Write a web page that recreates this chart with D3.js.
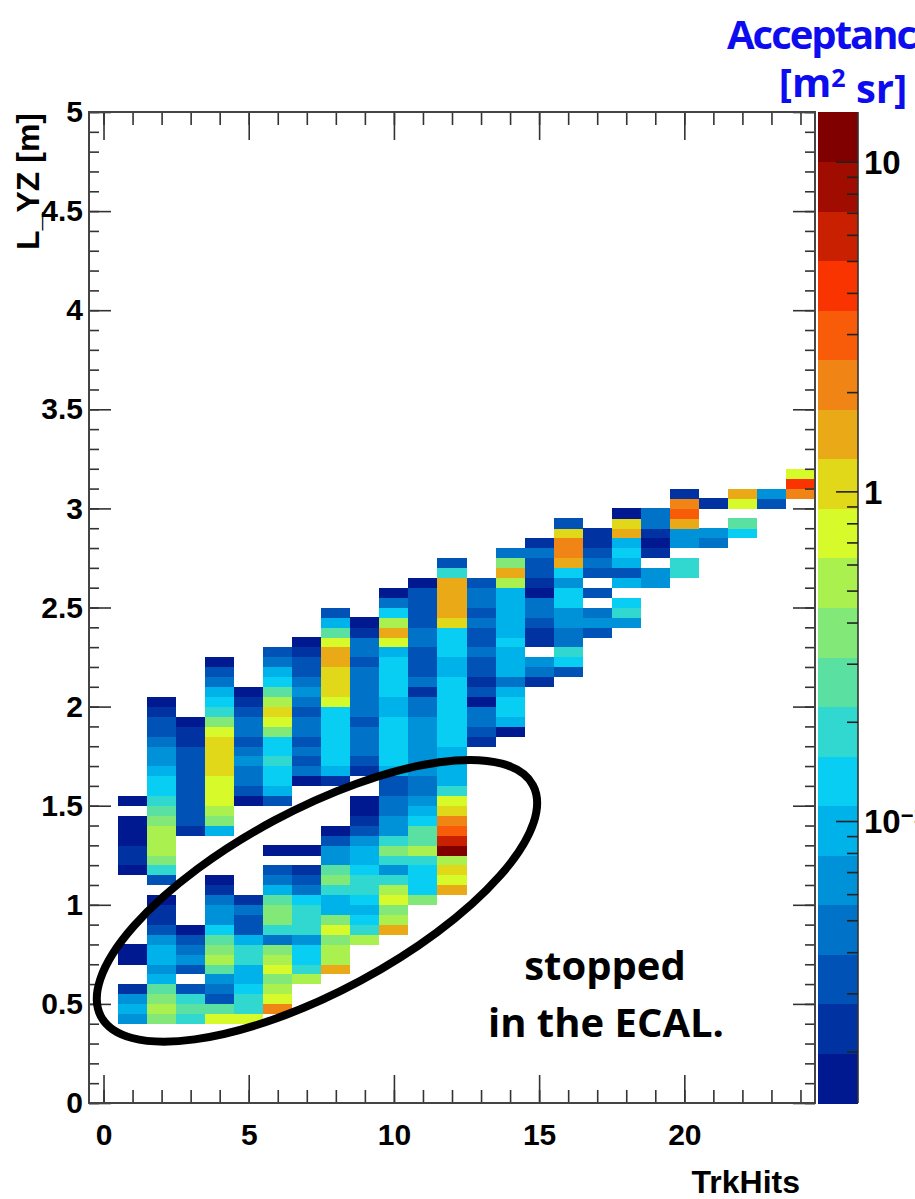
<!DOCTYPE html>
<html>
<head>
<meta charset="utf-8">
<script src="https://cdn.jsdelivr.net/npm/d3@7"></script>
<style>
  html, body { margin: 0; padding: 0; background: #fff; }
  svg { display: block; }
</style>
</head>
<body>
<svg id="chart" width="915" height="1199"></svg>
<script>
// TrkHits columns (bin width 1) and L_YZ bins of 0.05 m
const trkHits = d3.range(1, 25);
const binWidth = 0.05;

// lower edge of the lowest filled L_YZ bin, per TrkHits column
const columnStart = [0.40, 0.40, 0.40, 0.40, 0.40, 0.45, 0.60, 0.65, 0.80, 0.85, 1.00, 1.05,
  1.80, 1.85, 2.10, 2.15, 2.35, 2.40, 2.60, 2.65, 2.80, 2.85, 3.00, 3.05];

// acceptance [m^2 sr] per bin, going up from columnStart (null = empty bin)
const hits01 = [0.062, 0.088, 0.062, 0.022, null, null, 0.016, 0.016, null, null, null, null, null, null, null,
  0.016, 0.022, 0.022, 0.016, 0.016, 0.016, null, 0.016];
const hits02 = [0.36, 0.5, 0.36, 0.25, 0.088, 0.062, 0.088, 0.088, 0.062, 0.031, 0.022, 0.022, 0.016, null,
  0.031, 0.18, 0.36, 0.5, 0.5, 0.5, 0.36, 0.25, 0.18, 0.125, 0.125, 0.088, 0.062, 0.062, 0.044, 0.031, 0.031, 0.022, 0.016];
const hits03 = [0.18, 0.25, 0.18, 0.031, null, 0.031, 0.062, 0.044, 0.031, 0.016,
  null, null, null, null, null, null, null, null, null,
  0.022, 0.031, 0.031, 0.031, 0.031, 0.031, 0.031, 0.031, 0.031, 0.022, 0.022, 0.016];
const hits04 = [0.72, 0.25, 0.031, 0.044, 0.062, 0.25, 0.5, 0.36, 0.25, 0.125, 0.062, 0.062, 0.044, 0.022, 0.016,
  null, null, null, null,
  0.088, 0.36, 0.5, 0.72, 0.72, 0.72, 1.0, 1.0, 1.0, 1.0, 0.72, 0.36, 0.18, 0.125, 0.088, 0.044, 0.031, 0.016];
const hits05 = [0.72, 0.18, 0.18, 0.125, 0.088, 0.088, 0.18, 0.18, 0.088, 0.031, 0.031, 0.044, 0.022,
  null, null, null, null, null, null, null, null, null,
  0.016, 0.031, 0.044, 0.044, 0.062, 0.044, 0.031, 0.044, 0.044, 0.031, 0.022, 0.016];
const hits06 = [2.0, 0.72, 0.5, 0.36, 0.72, 0.5, 0.36, 0.044, 0.18, 0.36, 0.36, 0.25, 0.088, 0.044, 0.031, null, 0.016,
  null, null, null, null,
  0.031, 0.088, 0.125, 0.125, 0.18, 0.125, 0.125, 0.36, 0.72, 1.0, 0.5, 0.25, 0.125, 0.088, 0.044, 0.031];
const hits07 = [0.5, 0.18, 0.125, 0.125, 0.062, 0.18, 0.18, 0.18, 0.125, 0.044, 0.031, 0.022, null, 0.016,
  null, null, null, null, null, null,
  0.016, 0.044, 0.031, 0.044, 0.031, 0.044, 0.044, 0.031, 0.044, 0.062, 0.044, 0.031, 0.031, 0.022, 0.016];
const hits08 = [1.45, 0.5, 0.5, 0.36, 0.72, 0.36, 0.088, 0.088, 0.18, 0.36, 0.25, 0.062, 0.062, 0.031, 0.016,
  null, null, null, null,
  0.022, 0.088, 0.125, 0.125, 0.125, 0.125, 0.125, 0.125, 0.72, 1.0, 1.0, 1.0, 1.45, 1.45, 0.72, 0.25, 0.088, 0.031];
const hits09 = [0.5, 0.18, 0.125, 0.088, 0.125, 0.18, 0.18, 0.125, 0.088, 0.088, 0.062, 0.031, 0.022, 0.016, 0.016,
  null, null,
  0.022, 0.031, 0.044, 0.044, 0.044, 0.031, 0.044, 0.044, 0.044, 0.044, 0.044, 0.031, 0.044, 0.044, 0.022, 0.016];
const hits10 = [1.45, 0.5, 0.36, 0.72, 0.5, 0.18, 0.062, 0.18, 0.36, 0.18, 0.062, 0.062, 0.044, 0.044, 0.031, 0.031,
  0.088, 0.125, 0.125, 0.125, 0.125, 0.125, 0.088, 0.088, 0.125, 0.125, 0.125, 0.125, 0.088, 0.72, 1.45, 0.5, 0.125, 0.044, 0.016];
const hits11 = [0.36, 0.125, 0.125, 0.125, 0.18, 0.5, 0.25, 0.25, 0.125, 0.088, 0.062, 0.044, 0.044,
  0.062, 0.062, 0.062, 0.062, 0.062, 0.062, 0.044, 0.044, 0.022, 0.044, 0.031, 0.031, 0.031, 0.044, 0.044,
  0.031, 0.031, 0.031, 0.031, 0.016];
const hits12 = [1.45, 0.72, 1.0, 0.5, 11.5, 5.8, 2.9, 2.0, 1.0, 0.72, 0.18, 0.088, 0.088, 0.088, 0.088,
  0.125, 0.125, 0.125, 0.125, 0.125, 0.125, 0.125, 0.088, 0.088, 0.125, 0.125, 0.125, 1.0, 1.45, 1.45, 1.45, 1.45, 0.18, 0.031];
const hits13 = [0.022, 0.031, 0.044, 0.044, 0.016, 0.031, 0.022, 0.031, 0.031, 0.044, 0.031, 0.031, 0.044, 0.031, 0.044, 0.044, 0.031];
const hits14 = [0.016, 0.088, 0.125, 0.125, 0.088, 0.044, 0.088, 0.088, 0.088, 0.125, 0.088, 0.088, 0.088, 0.088, 0.088, 0.5, 1.45, 0.36, 0.044];
const hits15 = [0.022, 0.044, 0.062, null, 0.022, 0.022, 0.031, 0.044, 0.044, 0.016, 0.022, 0.031, 0.031, 0.044, 0.022];
const hits16 = [0.031, 0.125, 0.18, 0.044, 0.044, 0.062, 0.062, 0.125, 0.125, 0.062, 0.125, 1.45, 2.0, 2.0, 1.0, 0.031];
const hits17 = [0.031, 0.062, 0.044, null, 0.031, null, 0.031, 0.044, 0.031, 0.022, 0.022];
const hits18 = [0.062, 0.18, 0.125, null, 0.088, 0.031, 0.088, 0.125, 0.088, 1.45, 1.0, 0.016];
const hits19 = [0.062, 0.062, null, 0.022, 0.016, 0.022, 0.044, 0.044];
const hits20 = [0.18, 0.18, null, 0.062, 0.062, 1.45, 2.9, 2.0, 0.022];
const hits21 = [0.044, 0.062, null, null, 0.022];
const hits22 = [0.125, 0.25, null, 0.72, 1.45];
const hits23 = [0.031, 0.062];
const hits24 = [2.0, 4.1, 0.72];

const columns = [hits01, hits02, hits03, hits04, hits05, hits06, hits07, hits08, hits09, hits10, hits11, hits12,
  hits13, hits14, hits15, hits16, hits17, hits18, hits19, hits20, hits21, hits22, hits23, hits24];

// axis ticks
const xMajor = [0, 5, 10, 15, 20];
const xMinor = d3.range(0, 25, 1);
const yMajor = d3.range(0, 5.01, 0.5);
const yMinor = d3.range(0, 5.01, 0.1);
const zMajor = [0.1, 1, 10];

// colour palette (20 contours, log z)
const zMin = 0.014, zMax = 14.2;
const palette = ['#001890', '#0032a2', '#0052b6', '#0072c8', '#0092d8', '#00b2ea', '#08cef4', '#30d8d0',
  '#5ae0a0', '#82e878', '#aaf04e', '#d6fa2a', '#e2d81a', '#eaaa18', '#f08414', '#f85c08', '#fa3400',
  '#c82000', '#a00c00', '#800000'];

const svg = d3.select('#chart');

const x = d3.scaleLinear().domain([-0.5, 24.5]).range([89, 815]);
const y = d3.scaleLinear().domain([0, 5]).range([1103, 112]);
const z = d3.scaleLog().domain([zMin, zMax]).range([1103, 112]);
const color = d3.scaleQuantize()
  .domain([Math.log10(zMin), Math.log10(zMax)])
  .range(palette);

const cells = [];
columns.forEach((vals, i) => {
  const j0 = Math.round(columnStart[i] / binWidth);
  vals.forEach((v, k) => {
    if (v == null) return;
    cells.push({ hits: trkHits[i], lo: (j0 + k) * binWidth, value: v });
  });
});

svg.append('g')
  .attr('class', 'cells')
  .attr('shape-rendering', 'crispEdges')
  .selectAll('rect')
  .data(cells)
  .join('rect')
  .attr('x', (d) => x(d.hits - 0.5))
  .attr('y', (d) => y(d.lo + binWidth))
  .attr('width', (d) => x(d.hits + 0.5) - x(d.hits - 0.5))
  .attr('height', (d) => y(d.lo) - y(d.lo + binWidth) + 0.3)
  .attr('fill', (d) => color(Math.log10(d.value)));

// frame + ticks on all four sides
const tickColor = '#333';
const styleAxis = (g) => {
  g.select('.domain').remove();
  g.selectAll('.tick line').attr('stroke', tickColor).attr('stroke-width', 1.6);
  g.selectAll('.tick text')
    .attr('fill', '#000')
    .style('font-family', '"Liberation Sans", Arial, sans-serif')
    .style('font-weight', 'bold')
    .style('font-size', '30px');
};

svg.append('g').attr('transform', `translate(0,${y(0)})`)
  .call(d3.axisBottom(x).tickValues(xMinor).tickSizeInner(-13).tickSizeOuter(0).tickFormat(''))
  .call(styleAxis);
svg.append('g').attr('transform', `translate(0,${y(0)})`)
  .call(d3.axisBottom(x).tickValues(xMajor).tickSizeInner(-28).tickSizeOuter(0).tickPadding(21).tickFormat(d3.format('d')))
  .call(styleAxis);
svg.append('g').attr('transform', `translate(0,${y(5)})`)
  .call(d3.axisTop(x).tickValues(xMinor).tickSizeInner(-13).tickSizeOuter(0).tickFormat(''))
  .call(styleAxis);
svg.append('g').attr('transform', `translate(0,${y(5)})`)
  .call(d3.axisTop(x).tickValues(xMajor).tickSizeInner(-28).tickSizeOuter(0).tickFormat(''))
  .call(styleAxis);

svg.append('g').attr('transform', `translate(${x(-0.5)},0)`)
  .call(d3.axisLeft(y).tickValues(yMinor).tickSizeInner(-10).tickSizeOuter(0).tickFormat(''))
  .call(styleAxis);
svg.append('g').attr('transform', `translate(${x(-0.5)},0)`)
  .call(d3.axisLeft(y).tickValues(yMajor).tickSizeInner(-22).tickSizeOuter(0).tickPadding(6).tickFormat(d3.format('~g')))
  .call(styleAxis);
svg.append('g').attr('transform', `translate(${x(24.5)},0)`)
  .call(d3.axisRight(y).tickValues(yMinor).tickSizeInner(-10).tickSizeOuter(0).tickFormat(''))
  .call(styleAxis);
svg.append('g').attr('transform', `translate(${x(24.5)},0)`)
  .call(d3.axisRight(y).tickValues(yMajor).tickSizeInner(-22).tickSizeOuter(0).tickFormat(''))
  .call(styleAxis);

svg.append('rect')
  .attr('x', x(-0.5)).attr('y', y(5))
  .attr('width', x(24.5) - x(-0.5)).attr('height', y(0) - y(5))
  .attr('fill', 'none').attr('stroke', '#444').attr('stroke-width', 2);

// axis titles
svg.append('text')
  .attr('transform', `translate(39,${y(5) + 1}) rotate(-90)`)
  .attr('text-anchor', 'end')
  .style('font-family', '"Liberation Sans", Arial, sans-serif')
  .style('font-weight', 'bold')
  .style('font-size', '32px')
  .text('L_YZ [m]');

svg.append('text')
  .attr('x', 800).attr('y', 1193)
  .attr('text-anchor', 'end')
  .style('font-family', '"Liberation Sans", Arial, sans-serif')
  .style('font-weight', 'bold')
  .style('font-size', '32px')
  .text('TrkHits');

// colour bar
const barX = 818, barW = 40;
const lz0 = Math.log10(zMin), lz1 = Math.log10(zMax);
const bands = palette.map((c, i) => ({
  c,
  lo: Math.pow(10, lz0 + (i * (lz1 - lz0)) / palette.length),
  hi: Math.pow(10, lz0 + ((i + 1) * (lz1 - lz0)) / palette.length),
}));
svg.append('g')
  .attr('shape-rendering', 'crispEdges')
  .selectAll('rect')
  .data(bands)
  .join('rect')
  .attr('x', barX)
  .attr('y', (d) => z(d.hi))
  .attr('width', barW)
  .attr('height', (d) => z(d.lo) - z(d.hi) + 0.5)
  .attr('fill', (d) => d.c);

svg.append('line')
  .attr('x1', barX + barW).attr('x2', barX + barW)
  .attr('y1', z(zMax)).attr('y2', z(zMin))
  .attr('stroke', '#333').attr('stroke-width', 1.6);

const zTicks = z.ticks().filter((t) => t >= zMin && t <= zMax);
svg.append('g')
  .selectAll('line')
  .data(zTicks)
  .join('line')
  .attr('x1', (d) => barX + barW - (zMajor.includes(d) ? 22 : 11))
  .attr('x2', barX + barW)
  .attr('y1', (d) => z(d))
  .attr('y2', (d) => z(d))
  .attr('stroke', '#222')
  .attr('stroke-width', 1.6);

const zLabels = svg.append('g')
  .style('font-family', '"Liberation Sans", Arial, sans-serif')
  .style('font-weight', 'bold')
  .style('font-size', '33px');
zMajor.forEach((t) => {
  const txt = zLabels.append('text')
    .attr('x', barX + barW + 6)
    .attr('y', z(t))
    .attr('dy', '0.36em');
  if (t >= 1) {
    txt.text(d3.format('d')(t));
  } else {
    txt.text('10');
    txt.append('tspan').attr('dy', '-0.45em').style('font-size', '22px').text('\u2212' + '1');
  }
});

// colour bar title
const title = svg.append('g')
  .style('font-family', '"Open Sans", sans-serif')
  .style('font-weight', 'bold')
  .style('font-size', '40px')
  .attr('fill', '#0c0cee');
title.append('text')
  .attr('x', 727).attr('y', 49)
  .style('letter-spacing', '-2px')
  .text('Acceptance');
const unit = title.append('text').attr('x', 843).attr('y', 97).attr('text-anchor', 'middle');
unit.append('tspan').text('[m');
unit.append('tspan').attr('dy', '-0.42em').style('font-size', '25px').text('2');
unit.append('tspan').attr('dy', '0.42em').text(' sr]');

// annotation: ellipse around the stopped events
svg.append('ellipse')
  .attr('cx', 0).attr('cy', 0)
  .attr('rx', 245).attr('ry', 91)
  .attr('transform', `translate(${x(7.35)},${y(1.02)}) rotate(-28.2)`)
  .attr('fill', 'none')
  .attr('stroke', '#000')
  .attr('stroke-width', 8);

const note = svg.append('g')
  .style('font-family', '"Open Sans", sans-serif')
  .style('font-weight', 'bold')
  .style('font-size', '40px')
  .attr('text-anchor', 'middle');
note.append('text').attr('x', 605).attr('y', 980).text('stopped');
note.append('text').attr('x', 606).attr('y', 1037).text('in the ECAL.');
</script>
</body>
</html>
